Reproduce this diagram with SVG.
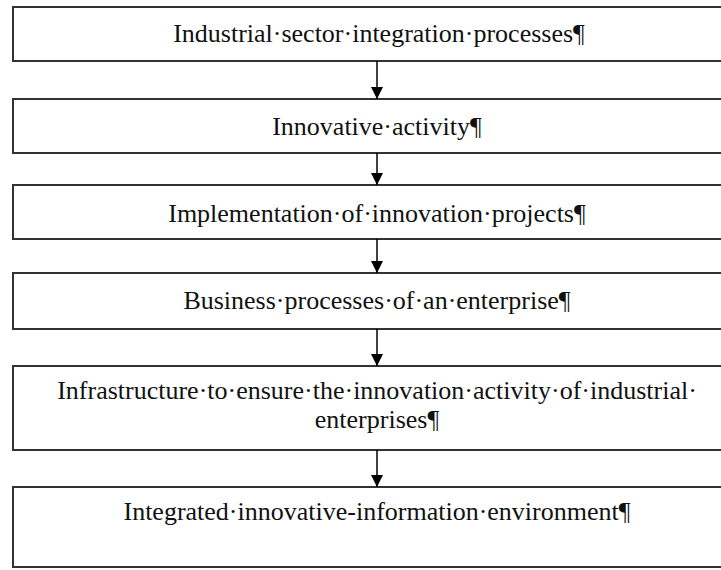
<svg xmlns="http://www.w3.org/2000/svg" width="721" height="570" viewBox="0 0 721 570">
<defs>
<style>
.box{fill:#fff;stroke:#333;stroke-width:2}
.t{font-family:"Liberation Serif","Times New Roman",serif;font-size:26px;fill:#111;text-anchor:middle}
.c{stroke:#000;stroke-width:1.5;fill:none}
</style>
<marker id="ah" viewBox="0 0 12 12" refX="12" refY="6" markerWidth="12" markerHeight="12" markerUnits="userSpaceOnUse" orient="auto">
<path d="M0,0 L12,6 L0,12 Z" fill="#000"/>
</marker>
</defs>
<rect width="721" height="570" fill="#fff"/>
<g id="n1"><rect class="box" x="13" y="7" width="740" height="54"/><text class="t" x="379" y="42">Industrial·sector·integration·processes¶</text></g>
<g id="n2"><rect class="box" x="13" y="99" width="740" height="54"/><text class="t" x="377" y="135">Innovative·activity¶</text></g>
<g id="n3"><rect class="box" x="13" y="185" width="740" height="54"/><text class="t" x="377" y="222">Implementation·of·innovation·projects¶</text></g>
<g id="n4"><rect class="box" x="13" y="273" width="740" height="56"/><text class="t" x="377" y="309">Business·processes·of·an·enterprise¶</text></g>
<g id="n5"><rect class="box" x="13" y="366" width="740" height="84"/><text class="t" x="377" y="399">Infrastructure·to·ensure·the·innovation·activity·of·industrial·</text><text class="t" x="377" y="428">enterprises¶</text></g>
<g id="n6"><rect class="box" x="13" y="487" width="740" height="80"/><text class="t" x="377" y="520">Integrated·innovative-information·environment¶</text></g>
<g id="connectors">
<line class="c" x1="377" y1="61" x2="377" y2="99" marker-end="url(#ah)"/>
<line class="c" x1="377" y1="153" x2="377" y2="185" marker-end="url(#ah)"/>
<line class="c" x1="377" y1="239" x2="377" y2="273" marker-end="url(#ah)"/>
<line class="c" x1="377" y1="329" x2="377" y2="366" marker-end="url(#ah)"/>
<line class="c" x1="377" y1="450" x2="377" y2="487" marker-end="url(#ah)"/>
</g>
</svg>
